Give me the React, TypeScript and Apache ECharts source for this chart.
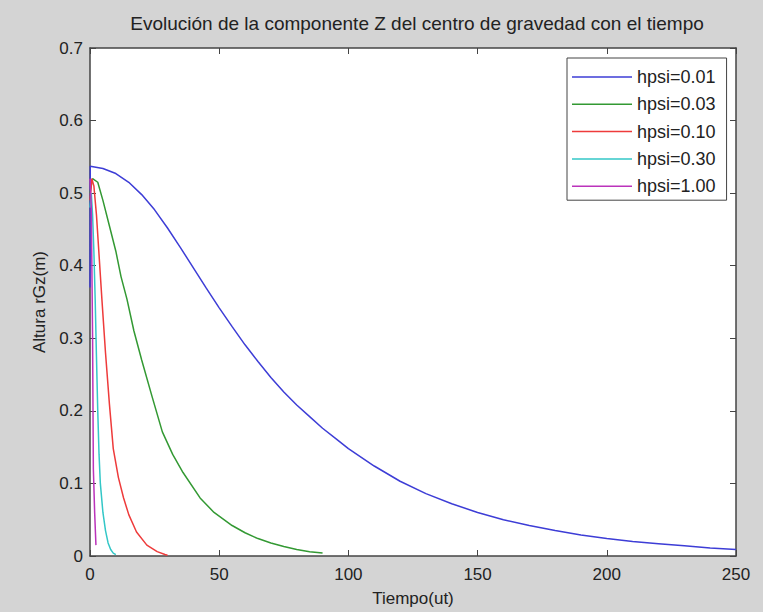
import React, { useEffect, useRef } from "react";
import * as echarts from "echarts";

const titleText = "Evolución de la componente Z del centro de gravedad con el tiempo";
const xAxisName = "Tiempo(ut)";
const yAxisName = "Altura rGz(m)";
const seriesNames = ["hpsi=0.01", "hpsi=0.03", "hpsi=0.10", "hpsi=0.30", "hpsi=1.00"];
const seriesColors = ["#3d3dd6", "#339933", "#ee3b3b", "#33c7c7", "#bb33bb"];

const blueT = [0, 0.1, 5, 10, 15, 20, 25, 30, 35, 40, 45, 50, 55, 60, 65, 70, 75, 80, 85, 90, 95, 100, 110, 120, 130, 140, 150, 160, 170, 180, 190, 200, 210, 220, 230, 240, 250];
const blueV = [0.37, 0.537, 0.534, 0.527, 0.515, 0.498, 0.477, 0.452, 0.425, 0.397, 0.369, 0.342, 0.316, 0.291, 0.268, 0.246, 0.226, 0.208, 0.192, 0.176, 0.162, 0.148, 0.124, 0.103, 0.086, 0.072, 0.060, 0.050, 0.042, 0.035, 0.029, 0.024, 0.020, 0.017, 0.014, 0.011, 0.009];

const greenT = [0, 1, 3, 5, 7.5, 10, 12, 14.3, 17, 20, 24, 28, 32, 36, 42.6, 48, 55, 60, 65, 70, 75, 80, 85, 90];
const greenV = [0.5, 0.52, 0.515, 0.49, 0.455, 0.42, 0.385, 0.354, 0.31, 0.27, 0.22, 0.171, 0.14, 0.115, 0.08, 0.06, 0.042, 0.032, 0.024, 0.018, 0.013, 0.009, 0.006, 0.004];

const redT = [0, 0.7, 1.5, 2.5, 3.5, 4.6, 6, 7.5, 9, 11, 13, 15, 18, 22, 26, 29, 30];
const redV = [0.49, 0.52, 0.51, 0.47, 0.415, 0.354, 0.28, 0.21, 0.148, 0.108, 0.08, 0.057, 0.033, 0.015, 0.006, 0.002, 0.001];

const cyanT = [0, 0.5, 1, 1.5, 2, 2.5, 3, 3.5, 4, 5, 6, 7, 8, 9, 10];
const cyanV = [0.48, 0.5, 0.47, 0.42, 0.354, 0.275, 0.2, 0.14, 0.1, 0.06, 0.035, 0.018, 0.009, 0.004, 0.002];

const purpleT = [0, 0.5, 1, 1.3, 1.8, 2.3];
const purpleV = [0.52, 0.48, 0.3, 0.12, 0.06, 0.015];

const xTicks = [0, 50, 100, 150, 200, 250];
const yTicks = [0, 0.1, 0.2, 0.3, 0.4, 0.5, 0.6, 0.7];

const allT = [blueT, greenT, redT, cyanT, purpleT];
const allV = [blueV, greenV, redV, cyanV, purpleV];

const FONT = "Liberation Sans, Arial, sans-serif";
const AXIS_COLOR = "#444";
const TEXT_COLOR = "#222";

export default function App() {
  const ref = useRef<HTMLDivElement>(null);
  useEffect(() => {
    document.body.style.margin = "0";
    if (!ref.current) return;
    const chart = echarts.init(ref.current, undefined, { renderer: "svg" });
    const xMin = xTicks[0];
    const xMax = xTicks[xTicks.length - 1];
    const xInt = xTicks[1] - xTicks[0];
    const yMin = yTicks[0];
    const yMax = yTicks[yTicks.length - 1];
    const yInt = 0.1;
    const axisCommon = {
      axisLine: { show: true, onZero: false, lineStyle: { color: AXIS_COLOR, width: 1.5 } },
      axisTick: { show: true, inside: true, length: 6, lineStyle: { color: AXIS_COLOR, width: 1 } },
      splitLine: { show: false },
    };
    chart.setOption({
      animation: false,
      backgroundColor: "#d4d4d4",
      textStyle: { fontFamily: FONT },
      title: {
        text: titleText,
        left: 412,
        top: 9,
        textAlign: "center",
        textStyle: { fontSize: 19, fontWeight: "normal", color: TEXT_COLOR, fontFamily: FONT },
      },
      grid: {
        left: 90,
        right: 27,
        top: 48,
        bottom: 54,
        show: true,
        backgroundColor: "#ffffff",
        borderWidth: 0,
      },
      legend: {
        data: seriesNames,
        orient: "vertical",
        left: 567,
        top: 58,
        icon: "rect",
        itemWidth: 60,
        itemHeight: 1.5,
        itemGap: 9.3,
        padding: [10, 11, 5, 5],
        backgroundColor: "#ffffff",
        borderColor: AXIS_COLOR,
        borderWidth: 1,
        borderRadius: 0,
        textStyle: { fontSize: 18, color: TEXT_COLOR, fontFamily: FONT },
      },
      xAxis: [
        {
          type: "value",
          position: "bottom",
          min: xMin,
          max: xMax,
          interval: xInt,
          name: xAxisName,
          nameLocation: "middle",
          nameGap: 34,
          nameTextStyle: { fontSize: 17, color: TEXT_COLOR, fontFamily: FONT },
          axisLabel: { fontSize: 17, color: TEXT_COLOR, margin: 10, fontFamily: FONT },
          ...axisCommon,
        },
        {
          type: "value",
          position: "top",
          min: xMin,
          max: xMax,
          interval: xInt,
          axisLabel: { show: false },
          ...axisCommon,
        },
      ],
      yAxis: [
        {
          type: "value",
          position: "left",
          min: yMin,
          max: yMax,
          interval: yInt,
          name: yAxisName,
          nameLocation: "middle",
          nameGap: 42,
          nameTextStyle: { fontSize: 17, color: TEXT_COLOR, fontFamily: FONT },
          axisLabel: {
            fontSize: 17,
            color: TEXT_COLOR,
            margin: 7,
            fontFamily: FONT,
            formatter: (v: number) => (Math.abs(v) < 1e-9 ? "0" : v.toFixed(1)),
          },
          ...axisCommon,
        },
        {
          type: "value",
          position: "right",
          min: yMin,
          max: yMax,
          interval: yInt,
          axisLabel: { show: false },
          ...axisCommon,
        },
      ],
      series: seriesNames.map((name, i) => ({
        name,
        type: "line",
        xAxisIndex: 0,
        yAxisIndex: 0,
        symbol: "none",
        smooth: false,
        data: allT[i].map((t, j) => [t, allV[i][j]]),
        lineStyle: { color: seriesColors[i], width: 1.5 },
        itemStyle: { color: seriesColors[i] },
      })),
    });
    return () => chart.dispose();
  }, []);
  return (
    <div
      ref={ref}
      style={{ position: "fixed", left: 0, top: 0, width: 763, height: 612 }}
    />
  );
}
